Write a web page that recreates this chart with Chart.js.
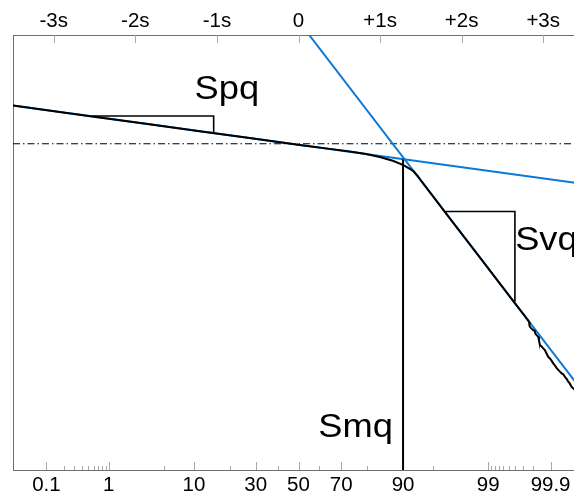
<!DOCTYPE html>
<html><head><meta charset="utf-8">
<script src="https://cdn.jsdelivr.net/npm/chart.js@4.4.1/dist/chart.umd.min.js"></script>
<style>html,body{margin:0;padding:0;overflow:hidden;background:#fff}canvas{display:block}</style>
</head><body>
<canvas id="c" width="584" height="495"></canvas>
<script>
// ---- data ----
const sigmaTicks = [-3, -2, -1, 0, 1, 2, 3];
const sigmaLabels = ['-3s', '-2s', '-1s', '0', '+1s', '+2s', '+3s'];
const pctMajor = [0.1, 1, 10, 30, 50, 70, 90, 99, 99.9];
const pctMajorLabels = ['0.1', '1', '10', '30', '50', '70', '90', '99', '99.9'];
const pctMinor = [0.2, 0.3, 0.4, 0.5, 0.6, 0.7, 0.8, 0.9, 5, 20, 40, 60, 80, 95,
  99.1, 99.2, 99.3, 99.4, 99.5, 99.6, 99.7, 99.8];

// material ratio curve (x in sigma units, y = height)
const curveSigma = [-3.5, -2.93, -2.439, -1.826, -1.212, -0.599, 0.015, 0.383, 0.628, 0.812, 0.996,
  1.156, 1.242, 1.303, 1.364, 1.413, 1.463, 1.512, 1.855, 2.223, 2.469, 2.628, 2.775, 2.816, 2.828,
  2.832, 2.85, 2.877, 2.895, 2.905, 2.919, 2.939, 2.948, 2.96, 2.98, 3.0, 3.021, 3.035, 3.061, 3.082,
  3.10, 3.123, 3.145, 3.168, 3.19, 3.226, 3.246, 3.266, 3.285, 3.307, 3.325, 3.348, 3.368, 3.426, 3.475];
const curveHeight = [0.878, 0.731, 0.604, 0.446, 0.287, 0.131, -0.028, -0.118, -0.178, -0.232, -0.305,
  -0.39, -0.455, -0.51, -0.575, -0.639, -0.747, -0.873, -1.714, -2.614, -3.214, -3.604, -3.965, -4.064, -4.10,
  -4.19, -4.24, -4.284, -4.30, -4.37, -4.399, -4.438, -4.52, -4.629, -4.66, -4.705, -4.744, -4.80, -4.898, -4.935,
  -4.98, -5.049, -5.10, -5.164, -5.21, -5.279, -5.30, -5.357, -5.40, -5.472, -5.51, -5.587, -5.624, -5.732, -5.824];

const plateauSigma = [-3.5, 3.5];
const plateauHeight = [0.878, -0.926];
const valleySigma = [0.131, 3.5];
const valleyHeight = [2.5, -5.734];
const spqSigma = [-2.525, -1.04, -1.04];
const spqHeight = [0.639, 0.639, 0.244];
const svqSigma = [1.806, 2.653, 2.653];
const svqHeight = [-1.558, -1.558, -3.634];
const smqPct = 90;
const smqHeight = [-0.363, -7.5];
const refHeight = 0;

const labelTexts = ['Spq', 'Svq', 'Smq'];
const labelSigma = [-1.274, 2.656, 0.242];
const labelHeight = [1.038, -2.447, -6.749];

// ---- helpers ----
function probit(p) {
  const a = [-3.969683028665376e+01, 2.209460984245205e+02, -2.759285104469687e+02, 1.383577518672690e+02, -3.066479806614716e+01, 2.506628277459239e+00];
  const b = [-5.447609879822406e+01, 1.615858368580409e+02, -1.556989798598866e+02, 6.680131188771972e+01, -1.328068155288572e+01];
  const c = [-7.784894002430293e-03, -3.223964580411365e-01, -2.400758277161838e+00, -2.549732539343734e+00, 4.374664141464968e+00, 2.938163982698783e+00];
  const d = [7.784695709041462e-03, 3.224671290700398e-01, 2.445134137142996e+00, 3.754408661907416e+00];
  const pl = 0.02425, ph = 1 - pl; let q, r;
  if (p < pl) { q = Math.sqrt(-2 * Math.log(p)); return (((((c[0]*q+c[1])*q+c[2])*q+c[3])*q+c[4])*q+c[5]) / ((((d[0]*q+d[1])*q+d[2])*q+d[3])*q+1); }
  if (p <= ph) { q = p - 0.5; r = q*q; return (((((a[0]*r+a[1])*r+a[2])*r+a[3])*r+a[4])*r+a[5])*q / (((((b[0]*r+b[1])*r+b[2])*r+b[3])*r+b[4])*r+1); }
  q = Math.sqrt(-2 * Math.log(1 - p)); return -(((((c[0]*q+c[1])*q+c[2])*q+c[3])*q+c[4])*q+c[5]) / ((((d[0]*q+d[1])*q+d[2])*q+d[3])*q+1);
}
const pts = (xs, ys) => xs.map((x, i) => ({ x: x, y: ys[i] }));
const BLUE = '#0a78d4';
const FONT = '"Liberation Sans", Arial, sans-serif';
const smqZ = probit(smqPct / 100);

const tickPlugin = {
  id: 'tickMarks',
  beforeDatasetsDraw(chart) {
    const ctx = chart.ctx, xs = chart.scales.x, a = chart.chartArea;
    ctx.save();
    ctx.strokeStyle = '#a8a8a8';
    ctx.lineWidth = 1;
    const draw = (x, y0, y1) => { const px = Math.round(x) + 0.5; ctx.beginPath(); ctx.moveTo(px, y0); ctx.lineTo(px, y1); ctx.stroke(); };
    pctMajor.forEach(p => draw(xs.getPixelForValue(probit(p / 100)), a.bottom, a.bottom - 8));
    pctMinor.forEach(p => draw(xs.getPixelForValue(probit(p / 100)), a.bottom, a.bottom - 4));
    sigmaTicks.forEach(s => draw(chart.scales.x2.getPixelForValue(s), a.top, a.top + 8));
    ctx.restore();
  }
};
const textPlugin = {
  id: 'annoText',
  afterDatasetsDraw(chart) {
    const ctx = chart.ctx, xs = chart.scales.x, ys = chart.scales.y;
    labelTexts.forEach((t, i) => {
      ctx.save();
      ctx.fillStyle = '#000';
      ctx.font = '33px ' + FONT;
      ctx.textAlign = 'left';
      ctx.textBaseline = 'alphabetic';
      ctx.translate(xs.getPixelForValue(labelSigma[i]), ys.getPixelForValue(labelHeight[i]));
      ctx.scale(1.1, 1);
      ctx.fillText(t, 0, 0);
      ctx.restore();
    });
  }
};

const lineDs = (data, color, width, extra) => Object.assign({
  data: data, borderColor: color, borderWidth: width, pointRadius: 0, fill: false, tension: 0,
  xAxisID: 'x', yAxisID: 'y'
}, extra || {});

new Chart(document.getElementById('c'), {
  type: 'line',
  data: {
    datasets: [
      lineDs(pts(curveSigma, curveHeight), '#000', 2),
      lineDs(pts(spqSigma, spqHeight), '#000', 1.6),
      lineDs(pts(svqSigma, svqHeight), '#000', 1.6),
      lineDs([{ x: smqZ, y: smqHeight[0] }, { x: smqZ, y: smqHeight[1] }], '#000', 2),
      lineDs(pts(plateauSigma, plateauHeight), BLUE, 2),
      lineDs(pts(valleySigma, valleyHeight), BLUE, 2),
      lineDs([{ x: plateauSigma[0], y: refHeight }, { x: plateauSigma[1], y: refHeight }], '#000', 1, { borderDash: [7, 3, 1.5, 3] })
    ]
  },
  options: {
    responsive: false,
    animation: false,
    layout: { padding: 0 },
    plugins: { legend: { display: false }, tooltip: { enabled: false } },
    scales: {
      x: {
        type: 'linear', position: 'bottom', min: -3.5, max: 3.5,
        grid: { display: false, drawTicks: false },
        border: { display: true, color: '#6e6e6e', width: 1 },
        ticks: {
          autoSkip: false, maxRotation: 0, minRotation: 0, padding: 3, color: '#000',
          font: { family: FONT, size: 20.5 },
          callback: (v, i) => pctMajorLabels[i]
        },
        afterBuildTicks: s => { s.ticks = pctMajor.map(p => ({ value: probit(p / 100) })); },
        afterFit: s => { s.height = 25; }
      },
      x2: {
        type: 'linear', position: 'top', min: -3.5, max: 3.5,
        grid: { display: false, drawTicks: false },
        border: { display: true, color: '#6e6e6e', width: 1 },
        ticks: {
          autoSkip: false, maxRotation: 0, minRotation: 0, padding: 1, color: '#000',
          font: { family: FONT, size: 20.5 },
          callback: (v, i) => sigmaLabels[i]
        },
        afterBuildTicks: s => { s.ticks = sigmaTicks.map(v => ({ value: v })); },
        afterFit: s => { s.height = 35; }
      },
      y: {
        type: 'linear', position: 'left', min: -7.5, max: 2.5,
        grid: { display: false, drawTicks: false },
        border: { display: true, color: '#6e6e6e', width: 1 },
        ticks: { display: false },
        afterFit: s => { s.width = 13; }
      }
    }
  },
  plugins: [tickPlugin, textPlugin]
});
</script>
</body></html>
